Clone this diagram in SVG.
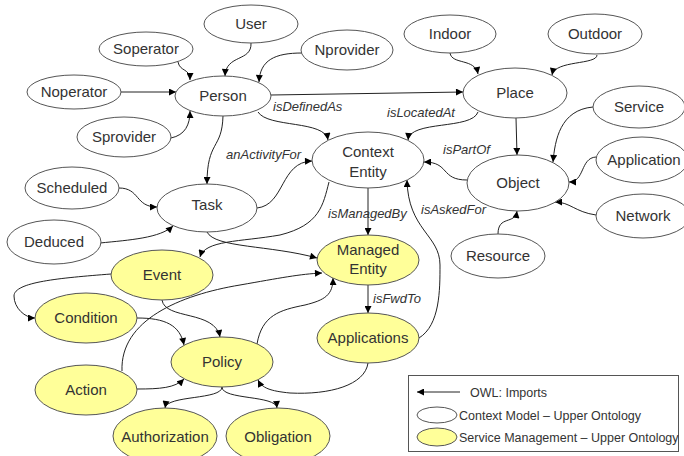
<svg xmlns="http://www.w3.org/2000/svg" width="684" height="456" viewBox="0 0 684 456">
<defs>
<marker id="ah" viewBox="0 0 10 10" refX="10" refY="5" markerWidth="8" markerHeight="7" markerUnits="userSpaceOnUse" orient="auto">
<path d="M0,0 L10,5 L0,10 z" fill="#000"/>
</marker>
<style>
.n ellipse{fill:#fff;stroke:#555;stroke-width:1}
.s ellipse{fill:#ffff99;stroke:#555;stroke-width:1}
text{font-family:"Liberation Sans",Arial,sans-serif;fill:#333}
.t{font-size:15px;text-anchor:middle}
.l{font-size:13px;font-style:italic}
.g{font-size:12.5px}
#edges path{fill:none;stroke:#222;stroke-width:1;marker-end:url(#ah)}
</style>
</defs>
<rect width="684" height="456" fill="#fff"/>
<g id="edges">
<path d="M251,43 C252,62 226,54 225,76"/>
<path d="M178,62 C180,72 190,68 190,80"/>
<path d="M302,53 C275,53 260,60 259,82"/>
<path d="M121,92 L176,92"/>
<path d="M171,138 C185,135 190,125 190,111"/>
<path d="M271,95 L463,92"/>
<path d="M258,112 C268,128 325,120 328,140"/>
<path d="M223,116 C222,150 207,140 207,184"/>
<path d="M257,208 C285,205 280,162 312,161"/>
<path d="M119,188 C140,188 135,207 157,207"/>
<path d="M100,243 C130,240 160,238 173,226"/>
<path d="M450,53 C452,65 475,58 478,74"/>
<path d="M597,55 C597,65 555,60 552,75"/>
<path d="M478,112 C472,130 410,120 408,140"/>
<path d="M516,118 L517,155"/>
<path d="M467,180 C440,180 450,162 424,162"/>
<path d="M593,107 C560,110 555,140 553,162"/>
<path d="M596,157 C580,158 585,182 569,182"/>
<path d="M596,215 C575,212 570,202 555,202"/>
<path d="M498,234 C498,215 515,225 517,211"/>
<path d="M368,188 L368,235"/>
<path d="M419,338 C440,325 440,290 440,265 C440,235 408,230 407,180"/>
<path d="M368,285 L368,313"/>
<path d="M329,182 C323,205 320,225 280,235 C240,242 205,240 200,257"/>
<path d="M207,232 C215,248 270,245 317,258"/>
<path d="M111,274 C60,278 14,282 14,296 C14,308 25,318 35,318"/>
<path d="M162,300 C165,320 215,310 220,337"/>
<path d="M137,318 C165,318 180,325 184,345"/>
<path d="M122,371 C120,320 180,295 240,285 C280,278 300,274 322,273"/>
<path d="M137,389 C160,389 175,388 184,379"/>
<path d="M257,344 C262,315 280,310 305,305 C325,300 333,295 333,278"/>
<path d="M368,363 C365,385 330,395 290,393 C270,391 262,388 258,380"/>
<path d="M222,387 C222,400 167,395 165,408"/>
<path d="M222,387 C222,400 276,395 277,408"/>
</g>
<g class="l">
<text x="273" y="111">isDefinedAs</text>
<text x="387" y="117">isLocatedAt</text>
<text x="226" y="159">anActivityFor</text>
<text x="443" y="154">isPartOf</text>
<text x="328" y="218">isManagedBy</text>
<text x="421" y="214">isAskedFor</text>
<text x="373" y="303">isFwdTo</text>
</g>
<g id="User" class="n"><ellipse cx="251" cy="24" rx="47" ry="19"/><text class="t" x="251" y="29">User</text></g>
<g id="Soperator" class="n"><ellipse cx="146" cy="49" rx="47" ry="17"/><text class="t" x="146" y="54">Soperator</text></g>
<g id="Nprovider" class="n"><ellipse cx="347" cy="50" rx="46" ry="20"/><text class="t" x="347" y="55">Nprovider</text></g>
<g id="Noperator" class="n"><ellipse cx="74" cy="92" rx="47" ry="17"/><text class="t" x="74" y="97">Noperator</text></g>
<g id="Person" class="n"><ellipse cx="223" cy="96" rx="48" ry="20"/><text class="t" x="223" y="101">Person</text></g>
<g id="Sprovider" class="n"><ellipse cx="124" cy="137" rx="47" ry="20"/><text class="t" x="124" y="142">Sprovider</text></g>
<g id="Indoor" class="n"><ellipse cx="450" cy="34" rx="46" ry="19"/><text class="t" x="450" y="39">Indoor</text></g>
<g id="Outdoor" class="n"><ellipse cx="595" cy="34" rx="47" ry="20"/><text class="t" x="595" y="39">Outdoor</text></g>
<g id="Place" class="n"><ellipse cx="515" cy="93" rx="52" ry="25"/><text class="t" x="515" y="98">Place</text></g>
<g id="Service" class="n"><ellipse cx="639" cy="107" rx="46" ry="21"/><text class="t" x="639" y="112">Service</text></g>
<g id="Application" class="n"><ellipse cx="642" cy="160" rx="46" ry="23"/><text class="t" x="644" y="165">Application</text></g>
<g id="Network" class="n"><ellipse cx="643" cy="216" rx="47" ry="22"/><text class="t" x="643" y="221">Network</text></g>
<g id="ContextEntity" class="n"><ellipse cx="368" cy="160" rx="56" ry="28"/><text class="t" x="368" y="157">Context</text><text class="t" x="368" y="177">Entity</text></g>
<g id="Object" class="n"><ellipse cx="518" cy="183" rx="51" ry="28"/><text class="t" x="518" y="188">Object</text></g>
<g id="Resource" class="n"><ellipse cx="498" cy="256" rx="47" ry="22"/><text class="t" x="498" y="261">Resource</text></g>
<g id="Scheduled" class="n"><ellipse cx="72" cy="188" rx="47" ry="21"/><text class="t" x="72" y="193">Scheduled</text></g>
<g id="Task" class="n"><ellipse cx="207" cy="208" rx="50" ry="24"/><text class="t" x="207" y="210">Task</text></g>
<g id="Deduced" class="n"><ellipse cx="54" cy="242" rx="47" ry="22"/><text class="t" x="54" y="247">Deduced</text></g>
<g id="ManagedEntity" class="s"><ellipse cx="368" cy="260" rx="51" ry="25"/><text class="t" x="368" y="255">Managed</text><text class="t" x="368" y="274">Entity</text></g>
<g id="Applications" class="s"><ellipse cx="368" cy="338" rx="51" ry="25"/><text class="t" x="368" y="343">Applications</text></g>
<g id="Event" class="s"><ellipse cx="162" cy="275" rx="51" ry="25"/><text class="t" x="162" y="280">Event</text></g>
<g id="Condition" class="s"><ellipse cx="86" cy="318" rx="51" ry="25"/><text class="t" x="86" y="323">Condition</text></g>
<g id="Policy" class="s"><ellipse cx="222" cy="362" rx="51" ry="25"/><text class="t" x="222" y="367">Policy</text></g>
<g id="Action" class="s"><ellipse cx="86" cy="390" rx="51" ry="25"/><text class="t" x="86" y="395">Action</text></g>
<g id="Authorization" class="s"><ellipse cx="165" cy="436" rx="52" ry="28"/><text class="t" x="165" y="442">Authorization</text></g>
<g id="Obligation" class="s"><ellipse cx="278" cy="436" rx="52" ry="28"/><text class="t" x="278" y="442">Obligation</text></g>
<g id="legend">
<rect x="408.500" y="375.500" width="270" height="76" fill="#fff" stroke="#555"/>
<line x1="460" y1="392" x2="417" y2="392" stroke="#222" marker-end="url(#ah)"/>
<text class="g" x="470" y="397">OWL: Imports</text>
<g class="n"><ellipse cx="437" cy="415" rx="20" ry="8"/></g>
<text class="g" x="459" y="420">Context Model – Upper Ontology</text>
<g class="s"><ellipse cx="437" cy="437" rx="20" ry="9"/></g>
<text class="g" x="459" y="442">Service Management – Upper Ontology</text>
</g>
</svg>
